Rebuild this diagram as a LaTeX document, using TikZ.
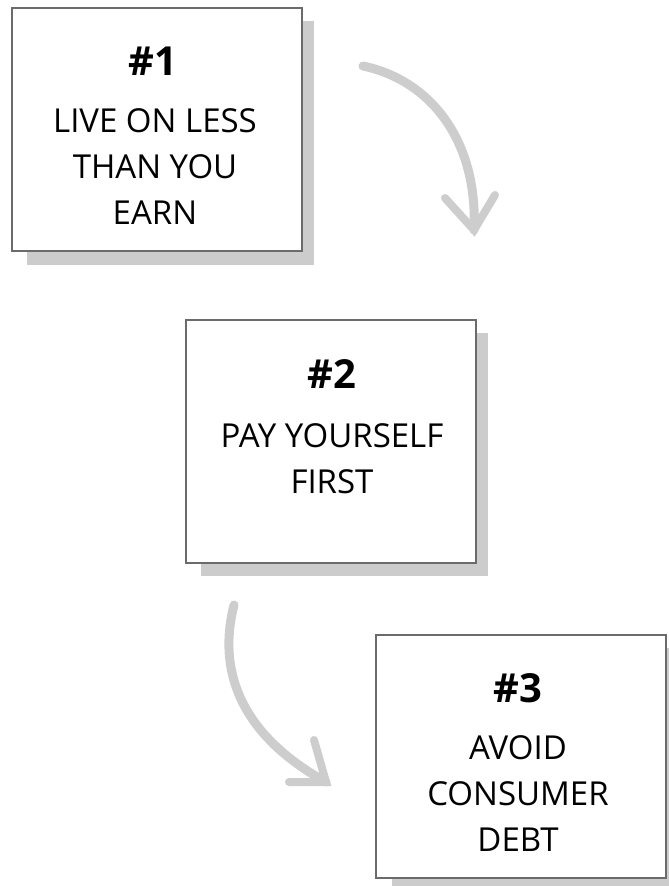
\documentclass[tikz,border=0pt]{standalone}
\usepackage{fontspec}
\setmainfont{Open Sans}
\usetikzlibrary{positioning}
\definecolor{boxline}{HTML}{6B6B6B}
\definecolor{shade}{HTML}{CCCCCC}
\definecolor{arrowgray}{HTML}{CDCDCD}
\tikzset{
  shadowbox/.style={fill=shade, draw=none},
  stepbox/.style={fill=white, draw=boxline, line width=2pt},
  numtext/.style={font=\fontsize{40}{40}\selectfont\bfseries, inner sep=0pt},
  bodytext/.style={font=\fontsize{33}{46}\selectfont, align=center, inner sep=0pt},
  brush/.style={draw=arrowgray, line width=9pt, line cap=round},
  wing/.style={draw=arrowgray, line width=8pt, line cap=round},
}
\begin{document}
\begin{tikzpicture}[x=1pt,y=-1pt]
\useasboundingbox (0,0) rectangle (669,886);
% box 1
\fill[shadowbox] (27,21) rectangle (314,265);
\draw[stepbox] (12,8) rectangle (302,251);
\node[numtext] (n1) at (153,61) {\#1};
\node[bodytext] (t1) at (155,167) {LIVE ON LESS\\THAN YOU\\EARN};
% box 2
\fill[shadowbox] (201,333) rectangle (488,576);
\draw[stepbox] (186,320) rectangle (476,563);
\node[numtext] (n2) at (332,374) {\#2};
\node[bodytext] (t2) at (332,459) {PAY YOURSELF\\FIRST};
% box 3
\fill[shadowbox] (392,648) rectangle (679,892);
\draw[stepbox] (376,635) rectangle (666,878);
\node[numtext] (n3) at (518,688) {\#3};
\node[bodytext] (t3) at (518,794) {AVOID\\CONSUMER\\DEBT};
% arrow 1
\coordinate (a1s) at (363,66);
\coordinate (a1t) at (474,230);
\coordinate (a1l) at (445,198);
\coordinate (a1r) at (495,195);
\draw[brush] (a1s) .. controls (430,80) and (478,140) .. (a1t);
\draw[wing] (a1l) -- (a1t) -- (a1r);
% arrow 2
\coordinate (a2s) at (234,605);
\coordinate (a2t) at (326,782);
\coordinate (a2u) at (314,740);
\coordinate (a2d) at (289,782);
\draw[brush] (a2s) .. controls (215,680) and (250,740) .. (a2t);
\draw[wing] (a2u) -- (a2t) -- (a2d);
\end{tikzpicture}
\end{document}
